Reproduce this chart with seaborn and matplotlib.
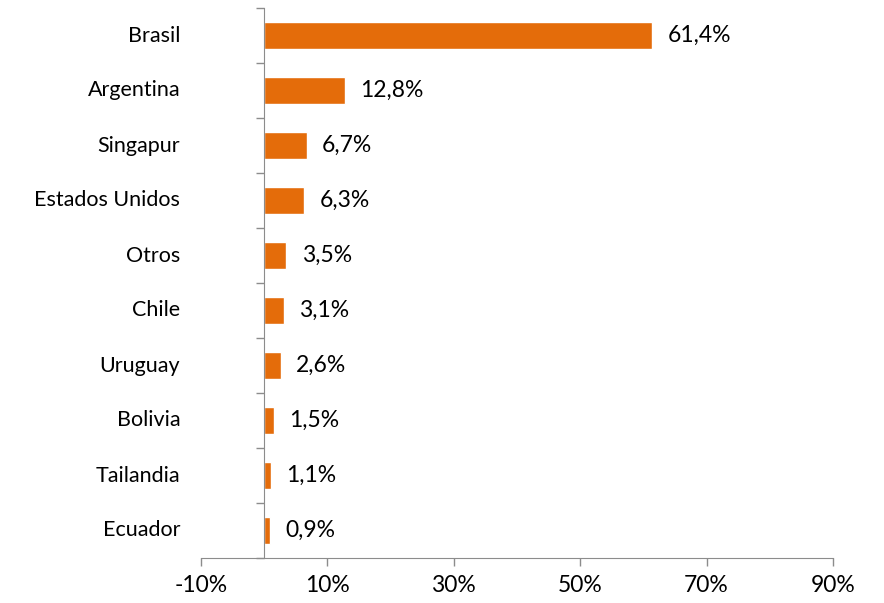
import seaborn as sns
import matplotlib.pyplot as plt
from matplotlib.ticker import FixedLocator

# Participación por país de destino (%)
paises = ['Brasil', 'Argentina', 'Singapur', 'Estados Unidos', 'Otros',
          'Chile', 'Uruguay', 'Bolivia', 'Tailandia', 'Ecuador']
valores = [61.4, 12.8, 6.7, 6.3, 3.5, 3.1, 2.6, 1.5, 1.1, 0.9]
x_ticks = [-10, 10, 30, 50, 70, 90]

sns.set_style('white')
plt.rcParams['font.family'] = ['Lato', 'DejaVu Sans']

fig = plt.figure(figsize=(8.84, 6.03), dpi=100)
ax = fig.add_axes([201 / 884, 1 - 558 / 603, 632 / 884, 550 / 603])

sns.barplot(x=valores, y=paises, orient='h', color='#E46C0A',
            width=0.5, saturation=1, ax=ax)

ax.set_xlim(-10, 90)
ax.set_ylim(len(paises) - 0.5, -0.5)
ax.set_xticks(x_ticks)
ax.set_xticklabels([f'{t}%' for t in x_ticks], fontsize=16.5)
ax.set_xlabel('')
ax.set_ylabel('')

grey = '#8C8C8C'
for s in ['top', 'right']:
    ax.spines[s].set_visible(False)
ax.spines['left'].set_position(('data', 0))
ax.spines['left'].set_color(grey)
ax.spines['bottom'].set_color(grey)

ax.tick_params(axis='x', bottom=True, direction='out', length=6, color=grey,
               width=1, labelcolor='black', pad=6)
ax.set_yticks(range(len(paises)))
ax.set_yticklabels([])
ax.tick_params(axis='y', which='major', left=False, length=0)
ax.yaxis.set_minor_locator(FixedLocator([i - 0.5 for i in range(len(paises) + 1)]))
ax.tick_params(axis='y', which='minor', left=True, direction='out', length=6,
               color=grey, width=1)

for i, p in enumerate(paises):
    ax.text(-0.033, i, p, transform=ax.get_yaxis_transform(),
            ha='right', va='center', fontsize=15.5, color='black')

for i, v in enumerate(valores):
    ax.annotate(f'{v:.1f}%'.replace('.', ','), xy=(v, i), xytext=(11, 0),
                textcoords='offset points', ha='left', va='center',
                fontsize=16.5, color='black')

fig.savefig('out.png', dpi=100)
